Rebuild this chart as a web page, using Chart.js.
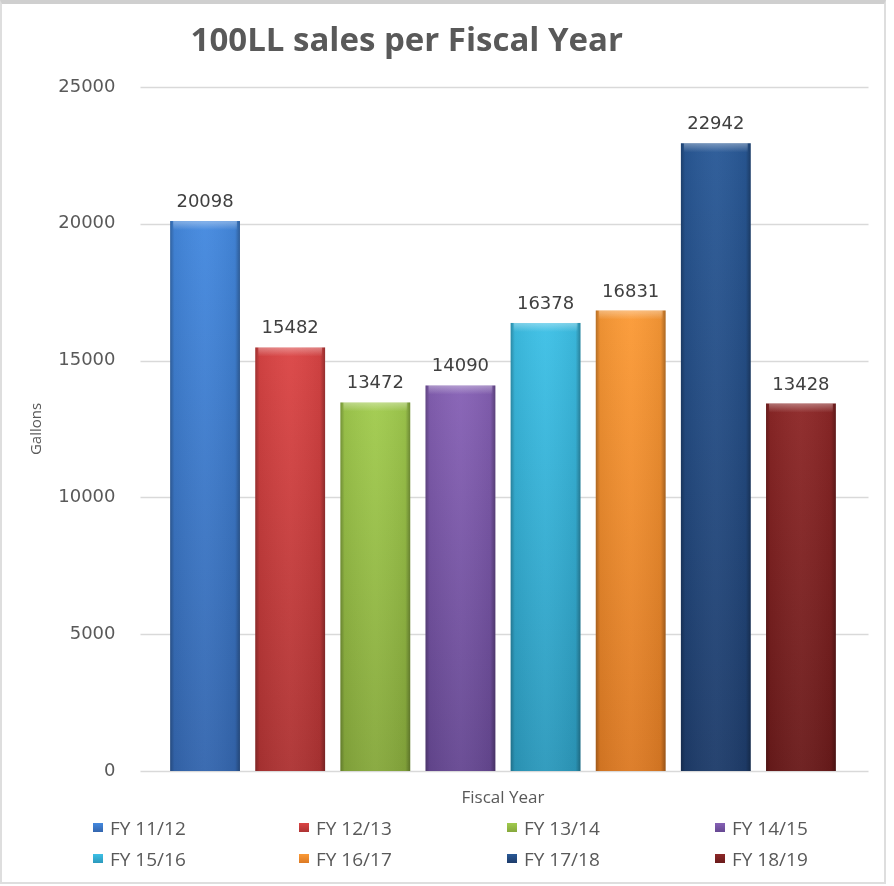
<!DOCTYPE html>
<html>
<head>
<meta charset="utf-8">
<script src="https://cdn.jsdelivr.net/npm/chart.js@4.4.0/dist/chart.umd.min.js"></script>
<style>
  html, body { margin: 0; padding: 0; background: #fff; overflow: hidden; }
  #frame { position: absolute; left: 0; top: 0; width: 882px; height: 878px;
           border: 2px solid #dedede; border-top: 4px solid #cfcfcf; }
  #wrap { position: absolute; left: -30px; top: 0; width: 924px; height: 886px; }
  #legend { position: absolute; left: 93px; top: 817px; display: grid;
            grid-template-columns: 206px 208px 208px 170px; row-gap: 10px;
            font-family: "Open Sans"; font-size: 19px; color: #595959; }
  .item { display: flex; align-items: center; height: 21px; white-space: nowrap; }
  .box { width: 10px; height: 9px; margin-right: 7px; }
</style>
</head>
<body>
<div id="frame"></div>
<div id="wrap"><canvas id="chart" width="924" height="886"></canvas></div>
<div id="legend"></div>
<script>
// values
const TITLE = "100LL sales per Fiscal Year";
const years = ["FY 11/12", "FY 12/13", "FY 13/14", "FY 14/15", "FY 15/16", "FY 16/17", "FY 17/18", "FY 18/19"];
const gallons = [20098, 15482, 13472, 14090, 16378, 16831, 22942, 13428];
const yTicks = [0, 5000, 10000, 15000, 20000, 25000];

// bar colours, top (light) and bottom (dark)
const lightColors = ["#4489df", "#db4545", "#a1cb4e", "#8661b5", "#3dc0e6", "#fb9a36", "#295997", "#8d2727"];
const darkColors = ["#3466ae", "#ad3333", "#86a83c", "#664892", "#2c99bc", "#dc7a24", "#1e3c6a", "#6a1b1b"];

// legend (html, 4 columns like the original)
const legendEl = document.getElementById("legend");
years.forEach((y, i) => {
  const item = document.createElement("div");
  item.className = "item";
  item.innerHTML = `<span class="box" style="background:linear-gradient(${lightColors[i]},${darkColors[i]})"></span>${y}`;
  legendEl.appendChild(item);
});

function barFill(ctx) {
  const chart = ctx.chart;
  const i = ctx.dataIndex;
  if (!chart.chartArea || i === undefined) return lightColors[i] || "#888";
  const yScale = chart.scales.y;
  const top = yScale.getPixelForValue(gallons[i]);
  const bottom = yScale.getPixelForValue(0);
  const g = chart.ctx.createLinearGradient(0, top, 0, bottom);
  g.addColorStop(0, lightColors[i]);
  g.addColorStop(1, darkColors[i]);
  return g;
}

// horizontal gridlines run a bit wider than the bars, like Excel
const gridPlugin = {
  id: "grid",
  beforeDatasetsDraw(chart) {
    const { ctx, chartArea, scales } = chart;
    ctx.save();
    ctx.strokeStyle = "#d9d9d9";
    ctx.lineWidth = 1.5;
    yTicks.forEach((t) => {
      const y = Math.round(scales.y.getPixelForValue(t)) + 0.5;
      ctx.beginPath();
      ctx.moveTo(chartArea.left - 22, y);
      ctx.lineTo(chartArea.right + 25, y);
      ctx.stroke();
    });
    ctx.restore();
  },
};

// edge shading, top bevel and value labels
const barDeco = {
  id: "barDeco",
  afterDatasetsDraw(chart) {
    const { ctx } = chart;
    const meta = chart.getDatasetMeta(0);
    ctx.save();
    meta.data.forEach((el, i) => {
      const { x, y, base, width } = el.getProps(["x", "y", "base", "width"], true);
      const l = x - width / 2;
      const h = base - y;
      const g = ctx.createLinearGradient(l, 0, l + width, 0);
      g.addColorStop(0, "rgba(0,0,0,0.28)");
      g.addColorStop(0.06, "rgba(0,0,0,0.06)");
      g.addColorStop(0.5, "rgba(255,255,255,0.04)");
      g.addColorStop(0.93, "rgba(0,0,0,0.06)");
      g.addColorStop(1, "rgba(0,0,0,0.32)");
      ctx.fillStyle = g;
      ctx.fillRect(l, y, width, h);
      // bevel at the top
      const b = ctx.createLinearGradient(0, y, 0, y + 9);
      b.addColorStop(0, "rgba(255,255,255,0.35)");
      b.addColorStop(1, "rgba(255,255,255,0)");
      ctx.fillStyle = b;
      ctx.fillRect(l + 3, y, width - 6, 9);

      ctx.fillStyle = "#404040";
      ctx.font = '18px "DejaVu Sans"';
      ctx.textAlign = "center";
      ctx.textBaseline = "alphabetic";
      ctx.fillText(String(gallons[i]), x, y - 14);
    });
    ctx.restore();
  },
};

new Chart(document.getElementById("chart").getContext("2d"), {
  type: "bar",
  data: {
    labels: years,
    datasets: [
      {
        label: "Gallons",
        data: gallons,
        backgroundColor: barFill,
        borderWidth: 0,
        barPercentage: 0.82,
        categoryPercentage: 1,
      },
    ],
  },
  options: {
    responsive: false,
    animation: false,
    layout: { padding: { left: 0, right: 50.5, top: 0, bottom: 77.6 } },
    plugins: {
      legend: { display: false },
      tooltip: { enabled: false },
      title: {
        display: true,
        text: TITLE,
        color: "#595959",
        font: { family: "Open Sans", size: 33, weight: "bold" },
        padding: { top: 22, bottom: 25.4 },
      },
    },
    scales: {
      x: {
        grid: { display: false },
        border: { display: false },
        ticks: { display: false },
        title: {
          display: true,
          text: "Fiscal Year",
          color: "#595959",
          font: { family: "Open Sans", size: 17 },
          padding: { top: 9, bottom: 0 },
        },
      },
      y: {
        min: 0,
        max: 25000,
        afterBuildTicks(scale) {
          scale.ticks = yTicks.map((v) => ({ value: v }));
        },
        afterFit(scale) {
          scale.width = 192.5;
        },
        grid: { display: false },
        border: { display: false },
        ticks: {
          padding: 39,
          color: "#595959",
          font: { family: "DejaVu Sans", size: 18 },
          callback: (v) => String(v),
        },
        title: {
          display: true,
          text: "Gallons",
          color: "#595959",
          font: { family: "Open Sans", size: 15 },
          padding: { top: 58, bottom: 0 },
        },
      },
    },
  },
  plugins: [gridPlugin, barDeco],
});
</script>
</body>
</html>
